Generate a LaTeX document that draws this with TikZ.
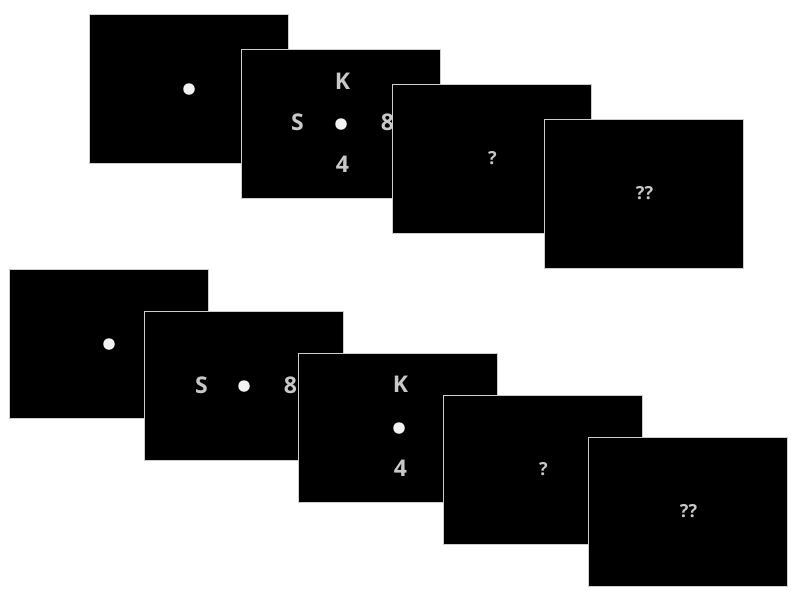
\documentclass[tikz,border=0pt]{standalone}
\usepackage{fontspec}
\setmainfont{Open Sans}
\definecolor{txt}{HTML}{C8C8C8}
\definecolor{frame}{HTML}{CCCCCC}
\definecolor{dotc}{HTML}{F2F2F2}
\begin{document}
\begin{tikzpicture}[x=1pt,y=-1pt,
  screen/.style={fill=black,draw=frame,line width=0.9pt},
  big/.style={text=txt,font=\fontsize{23}{23}\selectfont\bfseries,inner sep=0pt},
  small/.style={text=txt,font=\fontsize{18}{18}\selectfont\bfseries,inner sep=0pt},
  fix/.style={circle,fill=dotc,inner sep=0pt,minimum size=11.5pt}]
\useasboundingbox (0,0) rectangle (800,600);
% top row
\draw[screen] (89.5,14.5) rectangle (288.5,163.5);
\node[fix] (d1) at (189,89) {};
\draw[screen] (241.5,49.5) rectangle (440.5,198.5);
\node[big] (k1) at (342.5,81) {K};
\node[big] (s1) at (297.5,122.5) {S};
\node[fix] (d2) at (341,124) {};
\node[big] (e1) at (387.5,122.5) {8};
\node[big] (f1) at (342.5,164) {4};
\draw[screen] (392.5,84.5) rectangle (591.5,233.5);
\node[small] (q1) at (492.5,158.5) {?};
\draw[screen] (544.5,119.5) rectangle (743.5,268.5);
\node[small] (qq1) at (644.5,193.5) {??};
% bottom row
\draw[screen] (9.5,269.5) rectangle (208.5,418.5);
\node[fix] (d3) at (109,344) {};
\draw[screen] (144.5,311.5) rectangle (343.5,460.5);
\node[big] (s2) at (201.5,385.5) {S};
\node[fix] (d4) at (244,386) {};
\node[big] (e2) at (290.5,385.5) {8};
\draw[screen] (298.5,353.5) rectangle (497.5,502.5);
\node[big] (k2) at (400.5,384.5) {K};
\node[fix] (d5) at (399,428) {};
\node[big] (f2) at (400.5,468.5) {4};
\draw[screen] (443.5,395.5) rectangle (642.5,544.5);
\node[small] (q2) at (543.5,469.5) {?};
\draw[screen] (588.5,437.5) rectangle (787.5,586.5);
\node[small] (qq2) at (688.5,511.5) {??};
\end{tikzpicture}
\end{document}
